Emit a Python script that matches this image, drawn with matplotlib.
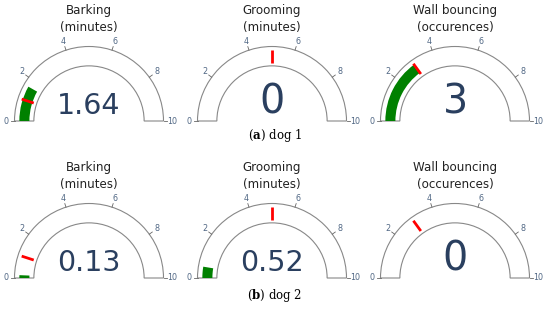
import matplotlib as mpl

mpl.use("Agg")
import matplotlib.pyplot as plt
import numpy as np
from matplotlib.patches import Wedge

plt.rcParams["mathtext.fontset"] = "dejavuserif"

# gauge data
titles = ["Barking\n(minutes)", "Grooming\n(minutes)", "Wall bouncing\n(occurences)"]
dog1_values = [1.64, 0, 3]
dog2_values = [0.13, 0.52, 0]
dog1_thresholds = [1, 5, 3]
dog2_thresholds = [1, 5, 3]
gauge_max = 10
tick_values = [0, 2, 4, 6, 8, 10]
panel_letters = ["a", "b"]
panel_names = ["dog 1", "dog 2"]

NUM_COLOR = "#2a3f5f"
TICK_COLOR = "#506784"
W, H = 550, 309
R = 74.5  # gauge radius in pixels
COL_X = [89, 272, 455]
ROW_BASE = [121, 278]
CAPTION_Y = [135, 296]


def val_angle(v):
    return 180.0 * (1 - v / gauge_max)


def draw_gauge(fig, cx, by, title, value, threshold):
    left = (cx - 1.3 * R) / W
    bottom = (H - by - 0.15 * R) / H
    ax = fig.add_axes([left, bottom, 2.6 * R / W, 1.75 * R / H])
    ax.set_xlim(-1.3, 1.3)
    ax.set_ylim(-0.15, 1.6)
    ax.axis("off")
    ax.patch.set_alpha(0)

    # band
    ax.add_patch(Wedge((0, 0), 1.0, 0, 180, width=0.26, fc="white", ec="#888888", lw=0.8))
    # value bar
    if value > 0:
        ax.add_patch(Wedge((0, 0), 0.935, val_angle(value), 180, width=0.135,
                           fc="#008000", ec="none"))
    # threshold
    a = np.radians(val_angle(threshold))
    ax.plot([0.78 * np.cos(a), 0.95 * np.cos(a)], [0.78 * np.sin(a), 0.95 * np.sin(a)],
            color="red", lw=2, solid_capstyle="butt")

    # ticks
    for t in tick_values:
        a = np.radians(val_angle(t))
        ax.plot([np.cos(a), 1.05 * np.cos(a)], [np.sin(a), 1.05 * np.sin(a)],
                color="#666666", lw=0.6)
        ax.text(1.12 * np.cos(a), 1.12 * np.sin(a), str(t), ha="center", va="center",
                fontsize=5.8, color=TICK_COLOR)

    label = f"{value:g}"
    fs = 28.5 if len(label) == 1 else 20.5
    ax.text(0, 0.1, label, ha="center", va="baseline", fontsize=fs, color=NUM_COLOR)

    line1, line2 = title.split("\n")
    ax.text(0, 1.48, line1, ha="center", va="center", fontsize=8.6, color="#222222")
    ax.text(0, 1.26, line2, ha="center", va="center", fontsize=8.6, color="#222222")


fig = plt.figure(figsize=(5.5, 3.09), dpi=100)

rows = [(dog1_values, dog1_thresholds), (dog2_values, dog2_thresholds)]
for r, (vals, ths) in enumerate(rows):
    for c in range(3):
        draw_gauge(fig, COL_X[c], ROW_BASE[r], titles[c], vals[c], ths[c])
    fig.text(275 / W, 1 - CAPTION_Y[r] / H,
             rf"($\mathbf{{{panel_letters[r]}}}$) {panel_names[r]}",
             ha="center", va="center", fontsize=8.5, family="DejaVu Serif")

fig.savefig("out.png", dpi=100)
